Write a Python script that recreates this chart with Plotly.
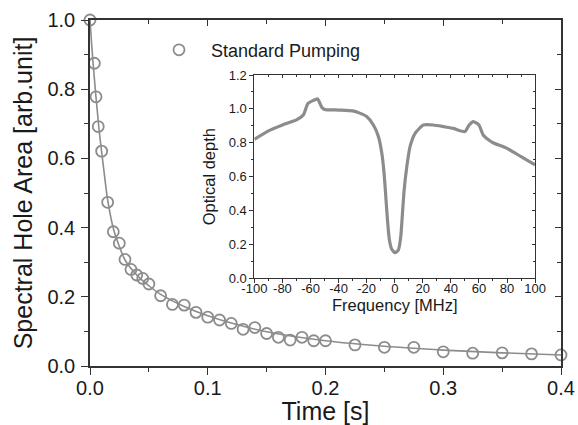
import plotly.graph_objects as go

# ---- main data: spectral hole area vs time ----
time_s = [0.0, 0.0037, 0.0051, 0.007, 0.0099, 0.015, 0.0198, 0.0249, 0.0297, 0.0348,
          0.0397, 0.0448, 0.050, 0.060, 0.070, 0.080, 0.090, 0.100, 0.110, 0.120,
          0.130, 0.140, 0.150, 0.160, 0.170, 0.180, 0.190, 0.200, 0.225, 0.250,
          0.275, 0.300, 0.325, 0.350, 0.375, 0.400]
hole_area = [1.0, 0.875, 0.778, 0.692, 0.621, 0.473, 0.388, 0.355, 0.308, 0.279,
             0.263, 0.253, 0.237, 0.203, 0.178, 0.176, 0.155, 0.141, 0.133, 0.123,
             0.106, 0.111, 0.094, 0.083, 0.075, 0.083, 0.073, 0.073, 0.061, 0.054,
             0.054, 0.041, 0.037, 0.038, 0.035, 0.032]

# fitted curve
fit_t = [0.0, 0.0025, 0.005, 0.0075, 0.01, 0.0125, 0.015, 0.02, 0.025, 0.03, 0.04, 0.05,
         0.06, 0.08, 0.10, 0.12, 0.15, 0.20, 0.25, 0.30, 0.35, 0.40]
fit_y = [1.0, 0.88, 0.78, 0.69, 0.615, 0.545, 0.48, 0.395, 0.345, 0.305, 0.262, 0.232,
         0.207, 0.172, 0.145, 0.124, 0.099, 0.073, 0.057, 0.046, 0.038, 0.032]

# ---- inset data: optical depth spectrum ----
freq_mhz = [-100, -90, -80, -70, -65, -62, -58, -55, -52, -50, -40, -30, -25, -20, -15.2,
            -11.6, -9.2, -7.6, -6.2, -5.0, -3.8, -2.1, 0.2, 2.6, 4.3, 5.5, 6.7, 8.6, 10.9,
            14.5, 20.4, 27.5, 35, 41.8, 45, 50, 53, 56, 60, 63, 67, 70, 80, 90, 100]
optical_depth = [0.82, 0.87, 0.905, 0.935, 0.965, 1.03, 1.05, 1.06, 1.01, 0.997, 0.993,
                 0.988, 0.975, 0.955, 0.905, 0.836, 0.738, 0.62, 0.462, 0.325, 0.226,
                 0.171, 0.151, 0.167, 0.246, 0.384, 0.521, 0.659, 0.777, 0.856, 0.905,
                 0.905, 0.895, 0.885, 0.875, 0.866, 0.905, 0.925, 0.905, 0.846, 0.816,
                 0.80, 0.767, 0.718, 0.669]

main_x_ticks = [0.0, 0.1, 0.2, 0.3, 0.4]
main_x_labels = ["0.0", "0.1", "0.2", "0.3", "0.4"]
main_y_ticks = [0.0, 0.2, 0.4, 0.6, 0.8, 1.0]
main_y_labels = ["0.0", "0.2", "0.4", "0.6", "0.8", "1.0"]
ins_x_ticks = [-100, -80, -60, -40, -20, 0, 20, 40, 60, 80, 100]
ins_x_labels = ["-100", "-80", "-60", "-40", "-20", "0", "20", "40", "60", "80", "100"]
ins_y_ticks = [0.0, 0.2, 0.4, 0.6, 0.8, 1.0, 1.2]
ins_y_labels = ["0.0", "0.2", "0.4", "0.6", "0.8", "1.0", "1.2"]

FONT = "Arial, Liberation Sans, sans-serif"
GREY = "#8c8c8c"
AXC = "#333333"
TXT = "#1a1a1a"

fig = go.Figure()
fig.add_trace(go.Scatter(x=fit_t, y=fit_y, mode="lines", line=dict(color=GREY, width=1.6, shape="spline"),
                         showlegend=False, hoverinfo="skip"))
fig.add_trace(go.Scatter(x=time_s, y=hole_area, mode="markers", name="Standard Pumping",
                         marker=dict(symbol="circle-open", size=11, color=GREY, line=dict(width=1.8, color=GREY)),
                         cliponaxis=False))
# mirror axes carriers
fig.add_trace(go.Scatter(x=[None], y=[None], xaxis="x3", yaxis="y3", showlegend=False))
fig.add_trace(go.Scatter(x=freq_mhz, y=optical_depth, xaxis="x2", yaxis="y2", mode="lines",
                         line=dict(color=GREY, width=3.2, shape="spline", smoothing=0.5), showlegend=False))
fig.add_trace(go.Scatter(x=[None], y=[None], xaxis="x4", yaxis="y4", showlegend=False))

common_tick = dict(tickfont=dict(family=FONT, size=20, color=TXT), showgrid=False, zeroline=False,
                   showline=True, linecolor=AXC, linewidth=1.5, tickcolor=AXC, tickwidth=1.3,
                   automargin=False)
inset_common = dict(showgrid=False, zeroline=False, showline=True, linecolor=AXC, linewidth=1,
                    tickcolor=AXC, tickwidth=1, automargin=False)

fig.update_layout(
    width=578, height=425,
    margin=dict(l=90, r=17, t=20, b=59),
    paper_bgcolor="white", plot_bgcolor="white",
    font=dict(family=FONT, color=TXT),
    xaxis=dict(range=[0, 0.4], tickvals=main_x_ticks, ticktext=main_x_labels, ticks="outside", ticklen=7,
               ticklabelstandoff=-4,
               minor=dict(dtick=0.05, tick0=0, ticks="outside", ticklen=4, tickcolor=AXC, tickwidth=1.3),
               title=dict(text="Time [s]", font=dict(family=FONT, size=25, color=TXT), standoff=1),
               **common_tick),
    yaxis=dict(range=[0, 1.0], tickvals=main_y_ticks, ticktext=main_y_labels, ticks="outside", ticklen=7,
               ticklabelstandoff=2,
               minor=dict(dtick=0.1, tick0=0, ticks="outside", ticklen=4, tickcolor=AXC, tickwidth=1.3),
               title=dict(text="Spectral Hole Area [arb.unit]", font=dict(family=FONT, size=25, color=TXT), standoff=8),
               **common_tick),
    xaxis3=dict(range=[0, 0.4], overlaying="x", side="top", anchor="y3", tickvals=main_x_ticks,
                showticklabels=False, ticks="inside", ticklen=6,
                minor=dict(dtick=0.05, tick0=0, ticks="inside", ticklen=4, tickcolor=AXC, tickwidth=1.3),
                **common_tick),
    yaxis3=dict(range=[0, 1.0], overlaying="y", side="right", anchor="x3", tickvals=main_y_ticks,
                showticklabels=False, ticks="inside", ticklen=6,
                minor=dict(dtick=0.1, tick0=0, ticks="inside", ticklen=4, tickcolor=AXC, tickwidth=1.3),
                **common_tick),
    xaxis2=dict(domain=[0.349, 0.945], anchor="y2", range=[-100, 100], tickvals=ins_x_ticks, ticktext=ins_x_labels,
                ticks="outside", ticklen=4, tickfont=dict(family=FONT, size=13, color=TXT), ticklabelstandoff=-6,
                minor=dict(dtick=10, tick0=0, ticks="outside", ticklen=2, tickcolor=AXC, tickwidth=1),
                title=dict(text="Frequency [MHz]", font=dict(family=FONT, size=16.5, color=TXT), standoff=0),
                **inset_common),
    yaxis2=dict(domain=[0.2535, 0.841], anchor="x2", range=[0, 1.2], tickvals=ins_y_ticks, ticktext=ins_y_labels,
                ticks="outside", ticklen=4, tickfont=dict(family=FONT, size=13, color=TXT),
                minor=dict(dtick=0.1, tick0=0, ticks="outside", ticklen=2, tickcolor=AXC, tickwidth=1),
                title=dict(text="Optical depth", font=dict(family=FONT, size=16.5, color=TXT), standoff=8),
                **inset_common),
    xaxis4=dict(domain=[0.349, 0.945], overlaying="x2", side="top", anchor="y4", range=[-100, 100],
                tickvals=ins_x_ticks, showticklabels=False, ticks="inside", ticklen=3,
                minor=dict(dtick=10, tick0=0, ticks="inside", ticklen=2, tickcolor=AXC, tickwidth=1),
                **inset_common),
    yaxis4=dict(domain=[0.2535, 0.841], overlaying="y2", side="right", anchor="x4", range=[0, 1.2],
                tickvals=ins_y_ticks, showticklabels=False, ticks="inside", ticklen=3,
                minor=dict(dtick=0.1, tick0=0, ticks="inside", ticklen=2, tickcolor=AXC, tickwidth=1),
                **inset_common),
    legend=dict(x=0.121, y=0.913, xanchor="left", yanchor="middle", bgcolor="rgba(0,0,0,0)",
                font=dict(family=FONT, size=18, color=TXT), itemwidth=54),
)

fig.write_html("out.html", config={"displayModeBar": False},
               post_script="document.body.style.margin='0';document.body.style.overflow='hidden';")
